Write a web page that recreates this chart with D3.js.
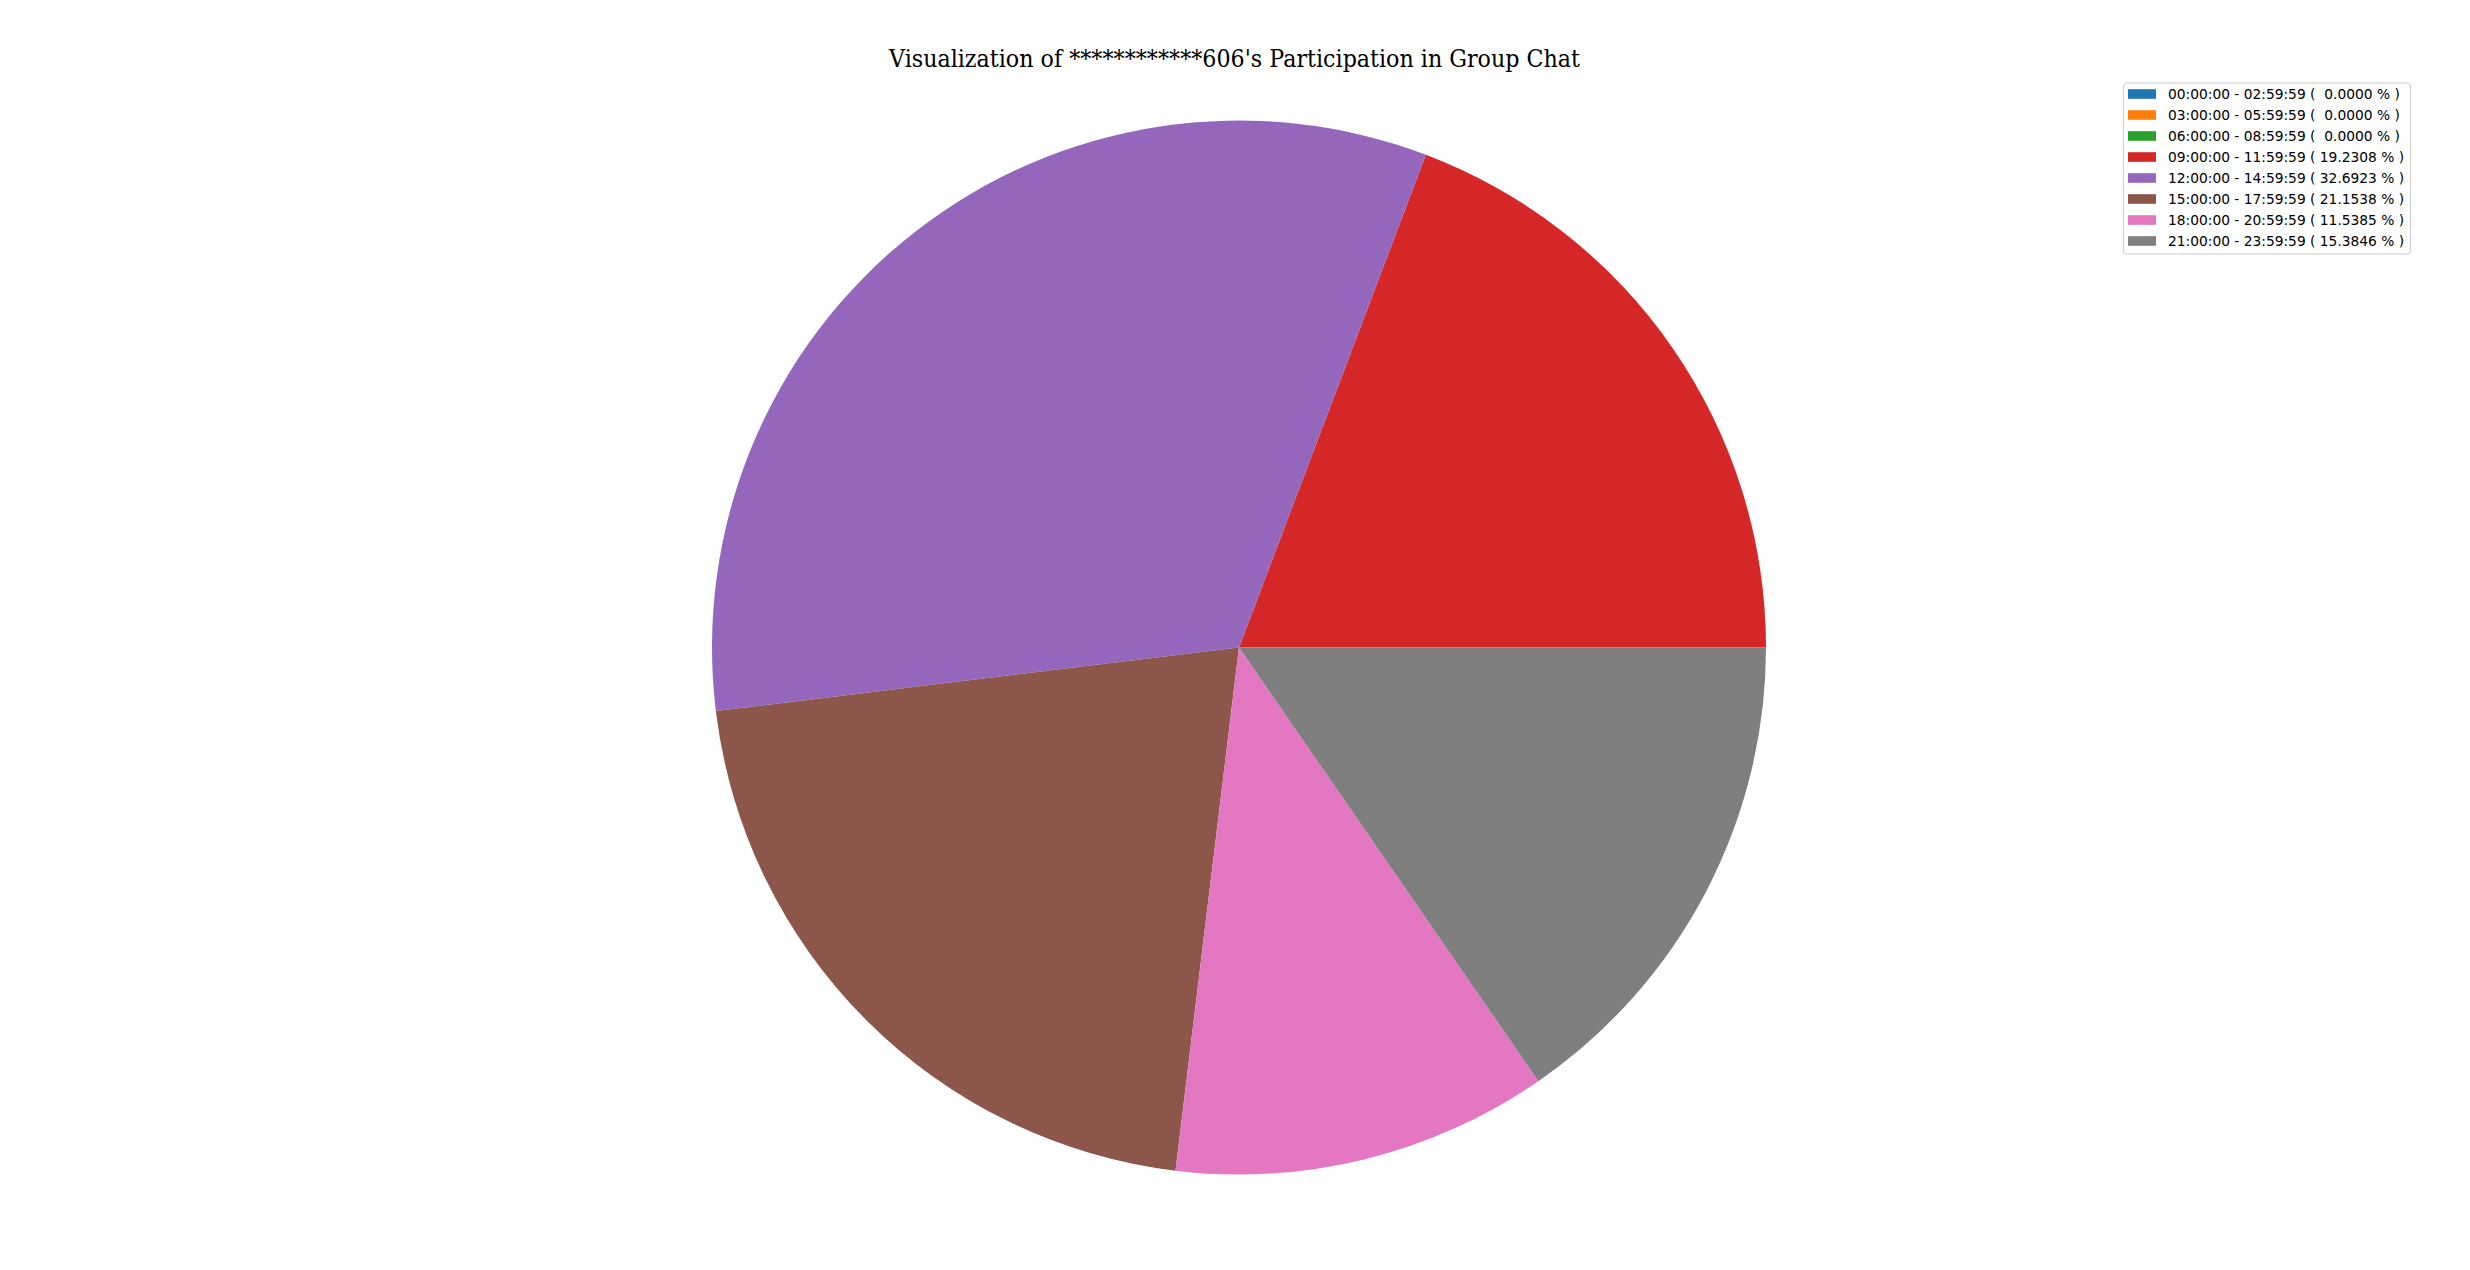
<!DOCTYPE html>
<html>
<head>
<meta charset="utf-8">
<script src="https://cdn.jsdelivr.net/npm/d3@7"></script>
<style>
  html, body { margin: 0; padding: 0; background: #fff; }
  svg { display: block; }
  .legend text { white-space: pre; }
</style>
</head>
<body>
<div id="chart"></div>
<script>
// time ranges and message counts per range
const ranges = [
  "00:00:00 - 02:59:59", "03:00:00 - 05:59:59", "06:00:00 - 08:59:59",
  "09:00:00 - 11:59:59", "12:00:00 - 14:59:59", "15:00:00 - 17:59:59",
  "18:00:00 - 20:59:59", "21:00:00 - 23:59:59"
];
const counts = [0, 0, 0, 10, 17, 11, 6, 8];
const colors = ["#1f77b4", "#ff7f0e", "#2ca02c", "#d62728", "#9467bd", "#8c564b", "#e377c2", "#7f7f7f"];
const title = "Visualization of ************606's Participation in Group Chat";

const width = 2470, height = 1270;
const cx = 1239, cy = 647.5, radius = 527;

const svg = d3.select("#chart").append("svg")
    .attr("width", width)
    .attr("height", height);

const color = d3.scaleOrdinal().domain(ranges).range(colors);
const total = d3.sum(counts);
const data = ranges.map((r, i) => ({ range: r, count: counts[i], pct: counts[i] / total * 100 }));

// matplotlib style: start at 3 o'clock, go counterclockwise
const pie = d3.pie()
    .value(d => d.count)
    .sort(null)
    .startAngle(Math.PI / 2)
    .endAngle(Math.PI / 2 - 2 * Math.PI);

const arc = d3.arc().innerRadius(0).outerRadius(radius);

svg.append("g")
    .attr("transform", `translate(${cx},${cy})`)
  .selectAll("path")
  .data(pie(data))
  .join("path")
    .attr("d", arc)
    .attr("fill", d => color(d.data.range));

// title
svg.append("text")
    .attr("x", 1234.5)
    .attr("y", 67)
    .attr("text-anchor", "middle")
    .attr("textLength", 691)
    .attr("lengthAdjust", "spacingAndGlyphs")
    .style("font-family", "'DejaVu Serif', serif")
    .style("font-size", "23.5px")
    .attr("fill", "#000")
    .text(title);

// legend
const legend = svg.append("g").attr("class", "legend");
legend.append("rect")
    .attr("x", 2123.5)
    .attr("y", 83)
    .attr("width", 287)
    .attr("height", 171)
    .attr("rx", 3)
    .attr("fill", "#fff")
    .attr("fill-opacity", 0.8)
    .attr("stroke", "#cccccc")
    .attr("stroke-width", 1);

const rowH = 21;
const rows = legend.selectAll("g.row")
  .data(data)
  .join("g")
    .attr("class", "row")
    .attr("transform", (d, i) => `translate(0,${94 + i * rowH})`);

rows.append("rect")
    .attr("x", 2128)
    .attr("y", -4.8)
    .attr("width", 28)
    .attr("height", 9.6)
    .attr("fill", d => color(d.range));

rows.append("text")
    .attr("x", 2168)
    .attr("y", 5)
    .style("font-family", "'DejaVu Sans', sans-serif")
    .style("font-size", "13.8px")
    .attr("fill", "#000")
    .text(d => `${d.range} ( ${d.pct.toFixed(4).padStart(7, " ")} % )`);
</script>
</body>
</html>
